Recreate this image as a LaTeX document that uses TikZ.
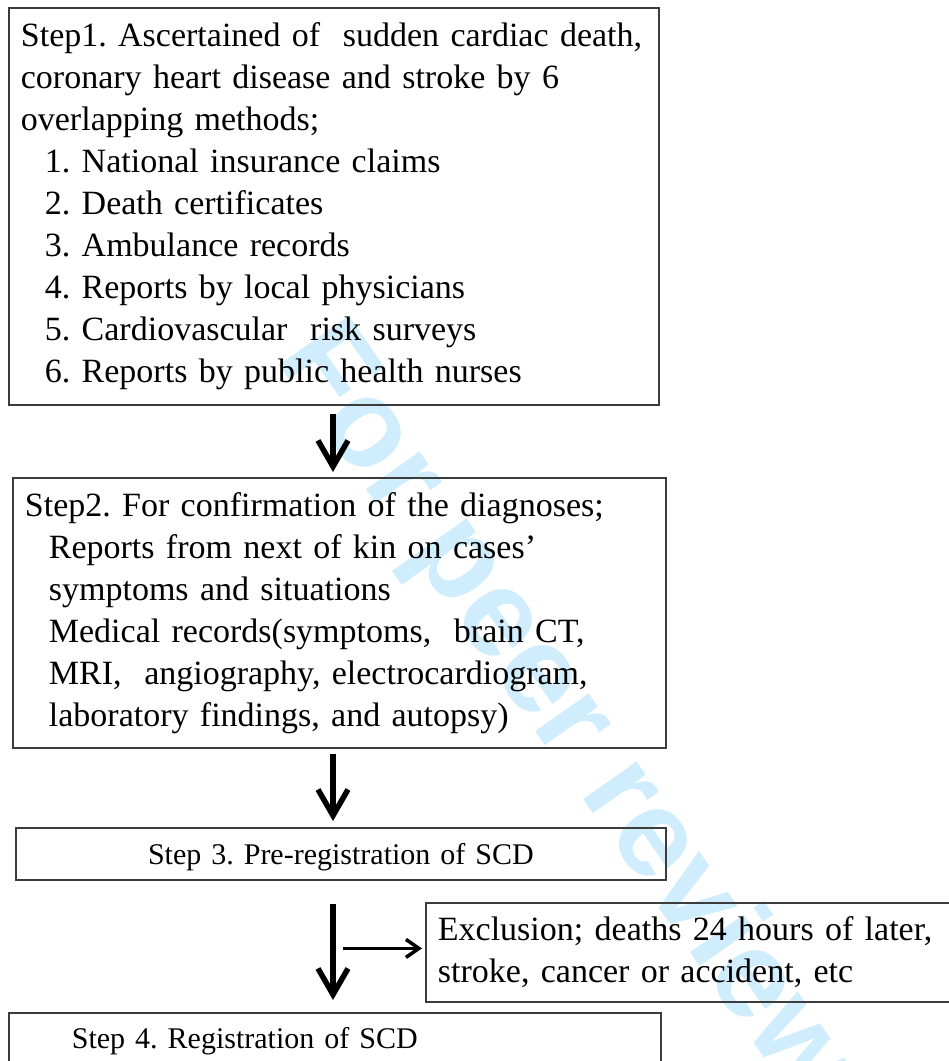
\documentclass[tikz,border=0pt]{standalone}
\usepackage{fontspec}
\setmainfont{Liberation Serif}
\newfontfamily\markfont{Liberation Sans}
\usetikzlibrary{arrows.meta}
\frenchspacing
\definecolor{colBorder}{RGB}{60,60,60}
\definecolor{colArrow}{RGB}{0,0,0}
\definecolor{colMark}{RGB}{207,237,252}
\newcommand{\bigtext}{\fontsize{34}{42}\selectfont}
\newcommand{\midtext}{\fontsize{30}{36}\selectfont}
\newcommand{\ind}{\hspace*{24pt}}
\tikzset{
  stepBox/.style={
    rectangle, draw=colBorder, line width=1.8pt,
    anchor=north west, inner xsep=12pt, inner ysep=0pt,
    align=left, font=\bigtext
  },
  arr/.style={
    -{Straight Barb[length=26pt,width=30pt]}, line width=5.5pt, color=colArrow
  },
  sidearr/.style={
    -{Straight Barb[length=13pt,width=18pt]}, line width=3.5pt, color=colArrow
  },
  markText/.style={
    font=\markfont\fontsize{124}{124}\selectfont\bfseries,
    text=colMark, anchor=base west, rotate=-55, inner sep=0pt
  }
}

\begin{document}
\begin{tikzpicture}[x=1pt, y=-1pt]

  \path[use as bounding box] (0,0) rectangle (949,1061);
  \clip (0,0) rectangle (949,1061);

  % watermark behind everything
  \node[markText] (mark) at (274,358) {For peer review};

  % step boxes
  \node[stepBox, text width=626pt, minimum height=397pt] (step1) at (8,7)
    {Step1. Ascertained of \ sudden cardiac death,\\
     coronary heart disease and stroke by 6\\
     overlapping methods;\\
     \ind 1. National insurance claims\\
     \ind 2. Death certificates\\
     \ind 3. Ambulance records\\
     \ind 4. Reports by local physicians\\
     \ind 5. Cardiovascular \ risk surveys\\
     \ind 6. Reports by public health nurses};
  \node[stepBox, text width=629pt, minimum height=270pt] (step2) at (12,477)
    {Step2. For confirmation of the diagnoses;\\
     \ind Reports from next of kin on cases'\\
     \ind symptoms and situations\\
     \ind Medical records(symptoms, \ brain CT,\\
     \ind MRI, \ angiography, electrocardiogram,\\
     \ind laboratory findings, and autopsy)};
  \node[stepBox, text width=626pt, minimum height=52pt, align=center,
        font=\midtext, text height=24pt, text depth=2pt] (step3) at (15,827)
    {Step 3. Pre-registration of SCD};
  \node[stepBox, text width=520pt, minimum height=99pt] (excl) at (425,902)
    {Exclusion; deaths 24 hours of later,\\
     stroke, cancer or accident, etc};
  \node[stepBox, text width=628pt, inner ysep=12pt, font=\midtext,
        text height=24pt, text depth=60pt] (step4) at (8,1012)
    {\hspace*{51pt}Step 4. Registration of SCD};

  % flow arrows
  \coordinate (spine) at (333,0);
  \coordinate (exclIn) at ([yshift=4pt]excl.west);
  \draw[arr, shorten <=8pt, shorten >=5pt] (spine |- step1.south) -- (spine |- step2.north);
  \draw[arr, shorten <=5pt, shorten >=6pt] (spine |- step2.south) -- (spine |- step3.north);
  \draw[arr, shorten <=23pt, shorten >=12pt] (spine |- step3.south) -- (spine |- step4.north);
  \draw[sidearr, shorten <=10pt, shorten >=3pt] (spine |- exclIn) -- (exclIn);

\end{tikzpicture}
\end{document}
